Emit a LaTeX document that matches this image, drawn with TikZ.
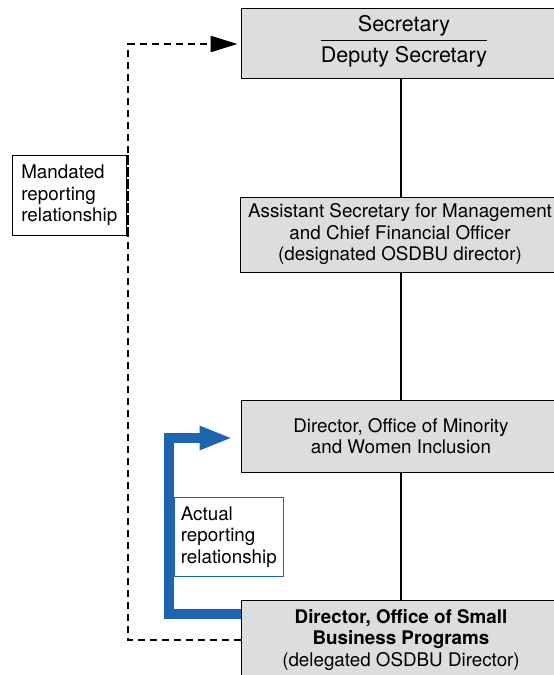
\documentclass[tikz,border=0pt]{standalone}
\usepackage{fontspec}
\setmainfont{TeX Gyre Heros}
\usetikzlibrary{arrows.meta}
\definecolor{boxgray}{HTML}{DCDDDE}
\definecolor{actblue}{HTML}{1F64B0}
\newcommand{\boxfont}{\fontsize{18.8}{21.5}\selectfont}
\newcommand{\topfont}{\fontsize{21.5}{24}\selectfont}

\begin{document}
\begin{tikzpicture}[x=1pt,y=-1pt,
    office/.style={draw, fill=boxgray, line width=1pt, minimum width=320pt, align=center, font=\boxfont, inner sep=0pt},
    note/.style={draw, line width=.6pt, align=left, font=\boxfont, inner sep=5pt, anchor=north west},
    link/.style={line width=1.6pt},
    mandated/.style={line width=2.6pt, dash pattern=on 7pt off 5pt, -{Triangle[length=27pt,width=16pt]}, shorten >=3pt},
    actual/.style={actblue, line width=10pt, line join=miter, -{Triangle[length=33pt,width=22pt]}, shorten >=8pt}]
\useasboundingbox (0,0) rectangle (554,675);

    % chain of offices
\node (secbox) at (401,43)    [office, minimum height=70pt] {};
\node (sec) at (404,26)  [font=\topfont, inner sep=0pt] {Secretary};
\node (dep) at (404,57)  [font=\topfont, inner sep=0pt] {Deputy Secretary};
\draw[line width=.8pt] ([yshift=6pt]dep.north west) -- ([yshift=6pt]dep.north east);
\node (asm) at (400,234.5)  [office, minimum height=75pt] {Assistant Secretary for Management\\and Chief Financial Officer\\(designated OSDBU director)};
\node (mwi) at (401,436)  [office, minimum height=72pt] {Director, Office of Minority\\and Women Inclusion};
\node (ssb) at (401,640)  [office, minimum height=80pt] {\textbf{Director, Office of Small}\\\textbf{Business Programs}\\(delegated OSDBU Director)};

\draw[link] (secbox) to (secbox |- asm.north);
\draw[link] (secbox |- asm.south) to (mwi);
\draw[link] (mwi) to (ssb);

    % reporting lines
\coordinate (mx) at (128,340);
\coordinate (ax) at (169,520);
\draw[mandated] (ssb.west) -| (mx) |- ([yshift=-1pt]secbox.west);
\draw[actual] ([yshift=26.5pt]ssb.west) -| (ax) |- ([yshift=-2pt]mwi.west);

\node (mand) at (12,155)  [note, minimum width=114pt, minimum height=80pt, fill=white] {Mandated\\reporting\\relationship};
\node (act) at (174,497)  [note, draw=actblue, minimum width=109pt, minimum height=79pt, inner sep=3pt, fill=white] {Actual\\reporting\\relationship};
\draw[line width=2.6pt, dash pattern=on 7pt off 5pt] (mand.north east -| mx) -- (mand.south east -| mx);

  \end{tikzpicture}
\end{document}
